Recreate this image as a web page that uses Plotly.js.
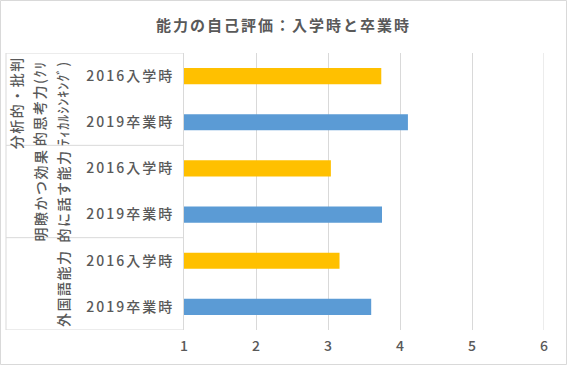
<!DOCTYPE html>
<html>
<head>
<meta charset="utf-8">
<script src="https://cdn.plot.ly/plotly-3.0.1.min.js"></script>
<style>
  html, body { margin: 0; padding: 0; background: #fff; }
  #chart { width: 567px; height: 365px; }
  #chart g.ytick text { letter-spacing: 2px; }
  #chart text.gtitle { letter-spacing: 2px; }
  #chart g.annotation text { letter-spacing: 1.5px; }
  #chart g.annotation[data-index="2"] text { letter-spacing: 1px; }
</style>
</head>
<body>
<div id="chart"></div>
<script>
// ---- data ----
const chartTitle = "能力の自己評価：入学時と卒業時";
const groupNames = ["分析的・批判的思考力(ｸﾘﾃｨｶﾙｼﾝｷﾝｸﾞ)", "明瞭かつ効果的に話す能力", "外国語能力"];
const groupLines = [
  ["分析的・批判", "的思考力(ｸﾘ", "ﾃｨｶﾙｼﾝｷﾝｸﾞ)"],
  ["明瞭かつ効果", "的に話す能力"],
  ["外国語能力"]
];
const seriesNames = ["2016入学時", "2019卒業時"];
const values2016 = [3.74, 3.04, 3.16];
const values2019 = [4.11, 3.75, 3.60];
const xTicks = [1, 2, 3, 4, 5, 6];

// ---- styles ----
const colors = ["#FFC000", "#5B9BD5"];
const textColor = "#595959";
const lineColor = "#D9D9D9";
const fontFam = "'Noto Sans CJK JP', 'Noto Sans', sans-serif";

const W = 567, H = 365;
const M = { l: 184, r: 23, t: 53, b: 35 };
const plotW = W - M.l - M.r;
const plotH = H - M.t - M.b;
const pxToPaper = px => (px - M.l) / plotW;
const pyToPaper = py => (H - M.b - py) / plotH;

const seriesValues = [values2016, values2019];
const nSeries = seriesNames.length;
const nRows = groupNames.length * nSeries;

const traces = seriesNames.map((name, s) => ({
  type: "bar",
  orientation: "h",
  name: name,
  x: seriesValues[s],
  y: groupNames.map((g, gi) => gi * nSeries + s),
  width: 0.35,
  marker: { color: colors[s] },
  hoverinfo: "x+name"
}));

const tickvals = [], ticktext = [];
groupNames.forEach((g, gi) => seriesNames.forEach((n, s) => {
  tickvals.push(gi * nSeries + s);
  ticktext.push(n);
}));

const leftEdge = pxToPaper(6);
const shapes = [];
// outer chart border
shapes.push({ type: "rect", xref: "paper", yref: "paper",
  x0: pxToPaper(0.5), x1: pxToPaper(W - 0.5), y0: pyToPaper(H - 0.5), y1: pyToPaper(0.5),
  line: { color: lineColor, width: 1 }, fillcolor: "rgba(0,0,0,0)" });
// category group dividers
for (let gi = 0; gi <= groupNames.length; gi++) {
  const yb = gi * nSeries - 0.5;
  shapes.push({ type: "line", xref: "paper", yref: "y", x0: leftEdge, x1: 0, y0: yb, y1: yb,
    line: { color: lineColor, width: 1 } });
}
shapes.push({ type: "line", xref: "paper", yref: "y", x0: leftEdge, x1: leftEdge, y0: -0.5, y1: nRows - 0.5,
  line: { color: lineColor, width: 1 } });
// last gridline at the axis maximum
const xMax = xTicks[xTicks.length - 1];
shapes.push({ type: "line", xref: "x", yref: "paper", x0: xMax, x1: xMax, y0: 0, y1: 1,
  line: { color: lineColor, width: 1 }, layer: "below" });

const annotations = [];
const lastColPx = 62.5, colGap = 23;
groupLines.forEach((lines, gi) => {
  const n = lines.length;
  lines.forEach((txt, li) => {
    annotations.push({
      xref: "paper", yref: "y",
      x: pxToPaper(lastColPx - (n - 1 - li) * colGap),
      y: gi * nSeries + (nSeries - 1) / 2,
      yshift: -4,
      text: txt, textangle: -90, showarrow: false,
      xanchor: "center", yanchor: "middle",
      font: { family: fontFam, size: 14, color: textColor, weight: 500 }
    });
  });
});

const layout = {
  width: W, height: H,
  margin: M,
  paper_bgcolor: "#fff", plot_bgcolor: "#fff",
  showlegend: false,
  barmode: "overlay",
  title: { text: chartTitle, x: 0.5, xanchor: "center", y: 0.93, yanchor: "middle",
    font: { family: fontFam, size: 15, color: textColor, weight: "bold" } },
  xaxis: {
    range: [1, 6], tickvals: xTicks, ticktext: xTicks.map(String),
    showgrid: true, gridcolor: lineColor, gridwidth: 1,
    zeroline: false, showline: false, ticks: "",
    tickfont: { family: fontFam, size: 14, color: textColor, weight: 500 },
    ticklabelstandoff: 6, fixedrange: true
  },
  yaxis: {
    range: [nRows - 0.5, -0.5], tickvals: tickvals, ticktext: ticktext,
    showgrid: false, zeroline: false, showline: true, linecolor: lineColor, linewidth: 1,
    ticks: "", tickfont: { family: fontFam, size: 14, color: textColor, weight: 500 },
    ticklabelstandoff: 6, fixedrange: true
  },
  shapes: shapes,
  annotations: annotations,
  font: { family: fontFam, color: textColor }
};

Plotly.newPlot("chart", traces, layout, { displayModeBar: false, staticPlot: true });
</script>
</body>
</html>
